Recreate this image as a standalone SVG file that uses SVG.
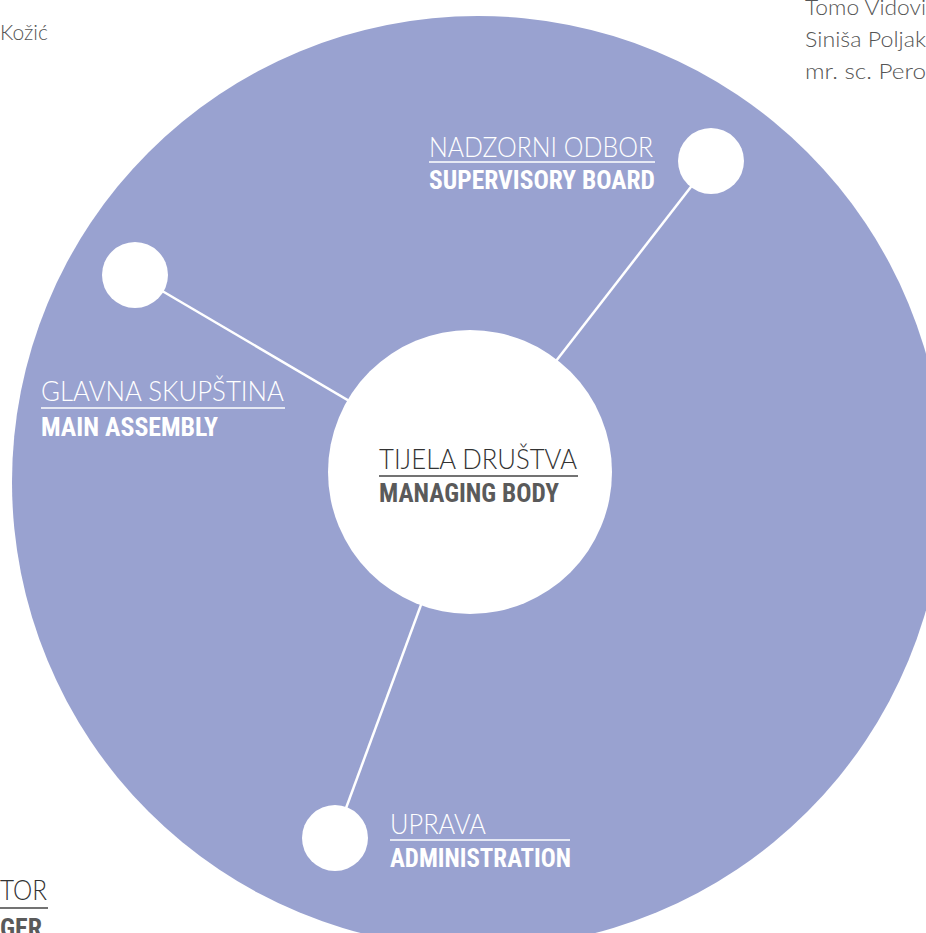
<svg xmlns="http://www.w3.org/2000/svg" width="926" height="933" viewBox="0 0 926 933">
<style>
.lt{font-family:Lato,"Open Sans","Liberation Sans",sans-serif;font-weight:300;font-size:27px}
.bd{font-family:"Liberation Sans Narrow","Roboto Condensed","Liberation Sans",sans-serif;font-weight:bold;font-size:25px}
.w{fill:#ffffff}
.dk{fill:#333333}
.dg{fill:#5a5a5a}
.ext{font-family:Lato,"Open Sans","Liberation Sans",sans-serif;font-weight:300;font-size:21px;fill:#555555}
.conn line{stroke:#ffffff;stroke-width:2.5}
</style>
<rect width="926" height="933" fill="#ffffff"/>
<circle id="background" cx="478" cy="482" r="466" fill="#99a2d0"/>
<g id="connectors" class="conn">
<line x1="711" y1="161" x2="470" y2="472"/>
<line x1="135" y1="275" x2="470" y2="472"/>
<line x1="335" y1="838" x2="470" y2="472"/>
</g>
<g id="node-center">
<circle cx="470" cy="472" r="142" fill="#ffffff"/>
<text class="lt dk" x="379" y="469" textLength="198" lengthAdjust="spacingAndGlyphs">TIJELA DRUŠTVA</text>
<line x1="379" y1="476" x2="578" y2="476" stroke="#444444" stroke-width="1.5"/>
<text class="bd dg" x="379" y="502" textLength="180" lengthAdjust="spacingAndGlyphs">MANAGING BODY</text>
</g>
<g id="node-supervisory">
<circle cx="711" cy="161" r="33" fill="#ffffff"/>
<text class="lt w" x="429" y="157" textLength="224" lengthAdjust="spacingAndGlyphs">NADZORNI ODBOR</text>
<line x1="429" y1="162" x2="655" y2="162" stroke="#ffffff" stroke-width="1.5"/>
<text class="bd w" x="429" y="189" textLength="226" lengthAdjust="spacingAndGlyphs">SUPERVISORY BOARD</text>
</g>
<g id="node-assembly">
<circle cx="135" cy="275" r="33" fill="#ffffff"/>
<text class="lt w" x="41" y="401" textLength="243" lengthAdjust="spacingAndGlyphs">GLAVNA SKUPŠTINA</text>
<line x1="41" y1="408" x2="285" y2="408" stroke="#ffffff" stroke-width="1.5"/>
<text class="bd w" x="41" y="436" textLength="177" lengthAdjust="spacingAndGlyphs">MAIN ASSEMBLY</text>
</g>
<g id="node-administration">
<circle cx="335" cy="838" r="33" fill="#ffffff"/>
<text class="lt w" x="390" y="834" textLength="96" lengthAdjust="spacingAndGlyphs">UPRAVA</text>
<line x1="390" y1="840" x2="570" y2="840" stroke="#ffffff" stroke-width="1.5"/>
<text class="bd w" x="390" y="867" textLength="181" lengthAdjust="spacingAndGlyphs">ADMINISTRATION</text>
</g>
<g id="fragments">
<text class="ext" x="0" y="40">Kožić</text>
<text class="ext" x="805" y="15" textLength="121" lengthAdjust="spacingAndGlyphs">Tomo Vidovi</text>
<text class="ext" x="805" y="47" textLength="121" lengthAdjust="spacingAndGlyphs">Siniša Poljak</text>
<text class="ext" x="805" y="79" textLength="121" lengthAdjust="spacingAndGlyphs">mr. sc. Pero</text>
<text class="lt dk" x="0" y="900" textLength="47" lengthAdjust="spacingAndGlyphs">TOR</text>
<line x1="0" y1="908" x2="48" y2="908" stroke="#444444" stroke-width="1.5"/>
<text class="bd dg" x="0" y="937" textLength="42" lengthAdjust="spacingAndGlyphs">GER</text>
</g>
</svg>
